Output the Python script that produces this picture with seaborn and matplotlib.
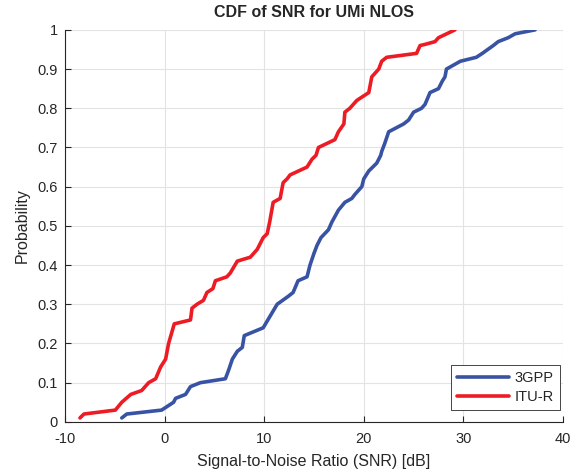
import matplotlib
matplotlib.use("Agg")
import matplotlib.pyplot as plt
import seaborn as sns
import pandas as pd

snr_3gpp = [-4.3, -3.8, -0.3, 0.9, 1.1, 2.1, 2.6, 3.6, 6.1, 6.4, 6.8, 7.3, 7.8, 8.0,
            9.9, 10.6, 11.3, 12.4, 12.9, 13.4, 14.3, 14.6, 15.0, 15.3, 15.7, 16.45,
            16.8, 17.45, 18.1, 18.8, 19.1, 19.8, 20.0, 20.5, 21.3, 21.7, 21.8, 22.1,
            22.5, 24.0, 24.5, 25.0, 25.8, 26.15, 26.65, 27.5, 27.7, 27.9, 28.15, 28.3,
            29.0, 29.7, 31.3, 31.9, 33.0, 33.5, 34.5, 35.2, 37.2]
prob_3gpp = [0.01, 0.02, 0.03, 0.05, 0.06, 0.07, 0.09, 0.10, 0.11, 0.13, 0.16, 0.18, 0.19, 0.22,
             0.24, 0.27, 0.30, 0.32, 0.33, 0.36, 0.37, 0.40, 0.43, 0.45, 0.47, 0.49,
             0.51, 0.54, 0.56, 0.57, 0.58, 0.60, 0.62, 0.64, 0.66, 0.68, 0.69, 0.71,
             0.74, 0.76, 0.77, 0.79, 0.80, 0.81, 0.84, 0.85, 0.86, 0.87, 0.88, 0.90,
             0.91, 0.92, 0.93, 0.94, 0.96, 0.97, 0.98, 0.99, 1.00]

snr_itur = [-8.5, -8.1, -4.95, -4.3, -3.4, -2.3, -1.6, -0.9, -0.4, 0.1, 0.4, 0.97, 2.6,
            2.75, 3.25, 3.9, 4.25, 4.85, 5.1, 6.25, 6.6, 7.3, 8.6, 9.3, 9.9, 10.3, 10.55,
            10.9, 11.6, 11.9, 12.3, 12.6, 14.3, 14.8, 15.2, 15.45, 17.1, 17.45, 18.0,
            18.1, 18.6, 19.3, 20.5, 20.8, 21.5, 21.8, 22.3, 25.3, 25.65, 26.15, 27.15,
            27.5, 29.15]
prob_itur = [0.01, 0.02, 0.03, 0.05, 0.07, 0.08, 0.10, 0.11, 0.14, 0.16, 0.20, 0.25, 0.26,
             0.29, 0.30, 0.31, 0.33, 0.34, 0.36, 0.37, 0.38, 0.41, 0.42, 0.44, 0.47, 0.48, 0.51,
             0.56, 0.57, 0.61, 0.62, 0.63, 0.65, 0.67, 0.68, 0.70, 0.72, 0.74, 0.76,
             0.79, 0.80, 0.82, 0.84, 0.88, 0.90, 0.92, 0.93, 0.94, 0.96, 0.963, 0.97,
             0.98, 1.00]

df = pd.concat([
    pd.DataFrame({'SNR': snr_3gpp, 'Probability': prob_3gpp, 'Model': '3GPP'}),
    pd.DataFrame({'SNR': snr_itur, 'Probability': prob_itur, 'Model': 'ITU-R'}),
], ignore_index=True)

sns.set_style("ticks")
plt.rcParams['font.family'] = ['Liberation Sans', 'DejaVu Sans']
plt.rcParams['axes.unicode_minus'] = False

fig = plt.figure(figsize=(5.78, 4.74), dpi=100)
ax = fig.add_axes([0.1125, 0.110, 0.8615, 0.827])

sns.lineplot(data=df, x='SNR', y='Probability', hue='Model', estimator=None, sort=False,
             palette={'3GPP': '#3953A4', 'ITU-R': '#ED1C24'}, linewidth=2.6, ax=ax)

ax.set_xlim(-10, 40)
ax.set_ylim(0, 1)
ax.set_xticks(range(-10, 41, 10))
ax.set_yticks([i / 10 for i in range(11)])
ax.set_yticklabels(['0', '0.1', '0.2', '0.3', '0.4', '0.5', '0.6', '0.7', '0.8', '0.9', '1'])
ax.grid(True, color='#e3e3e3', linewidth=0.8)
ax.set_axisbelow(True)
for side in ['top', 'right']:
    ax.spines[side].set_visible(False)
for side in ['left', 'bottom']:
    ax.spines[side].set_color('#262626')
    ax.spines[side].set_linewidth(0.8)
ax.tick_params(direction='in', length=4, colors='#262626', labelsize=10.5, width=0.8)
ax.tick_params(axis='x', pad=7)
ax.tick_params(axis='y', pad=5)

ax.set_xlabel('Signal-to-Noise Ratio (SNR) [dB]', fontsize=11.5, color='#262626', labelpad=6)
ax.set_ylabel('Probability', fontsize=11.5, color='#262626', labelpad=6)
ax.set_title('CDF of SNR for UMi NLOS', fontsize=11.5, fontweight='bold', pad=9)

leg = ax.legend(loc='lower right', bbox_to_anchor=(0.994, 0.031), borderaxespad=0,
                fontsize=10.5, fancybox=False, framealpha=1,
                edgecolor='#262626', handlelength=3.6, borderpad=0.4, labelspacing=0.35,
                handletextpad=0.4)
leg.get_frame().set_linewidth(0.6)

fig.savefig('out.png', dpi=100)
